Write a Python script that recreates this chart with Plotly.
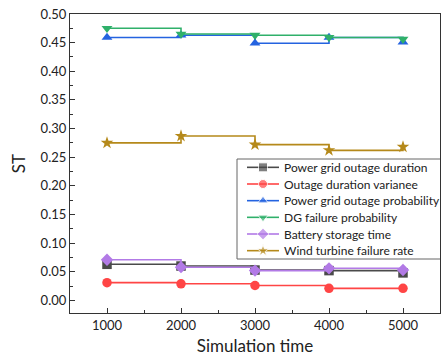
import plotly.graph_objects as go

sim_time = [1000, 2000, 3000, 4000, 5000]
grid_outage_duration = [0.063, 0.060, 0.053, 0.052, 0.048]
outage_duration_variance = [0.031, 0.029, 0.026, 0.021, 0.021]
grid_outage_probability = [0.459, 0.463, 0.449, 0.459, 0.451]
dg_failure_probability = [0.475, 0.465, 0.463, 0.459, 0.456]
battery_storage_time = [0.071, 0.058, 0.052, 0.056, 0.053]
wind_turbine_failure_rate = [0.275, 0.287, 0.272, 0.262, 0.268]

series = [
    ("Power grid outage duration", grid_outage_duration, "#4a4a4a", "square"),
    ("Outage duration varianee", outage_duration_variance, "#ff4545", "circle"),
    ("Power grid outage probability", grid_outage_probability, "#2463e0", "triangle-up"),
    ("DG failure probability", dg_failure_probability, "#2fb06a", "triangle-down"),
    ("Battery storage time", battery_storage_time, "#b27ae6", "diamond"),
    ("Wind turbine failure rate", wind_turbine_failure_rate, "#b5891a", "star"),
]

font = "Lato"
W, H = 443, 356
ML, MR, MT, MB = 70, 3, 14, 43

fig = go.Figure()
for name, vals, color, sym in series:
    fig.add_trace(go.Scatter(
        x=sim_time, y=vals, name=name, mode="lines+markers",
        line=dict(color=color, width=1.6, shape="hv"),
        marker=dict(symbol=sym, size=9.5, color=color),
        showlegend=False,
    ))

# Compact legend drawn on an overlay pixel-coordinate axis pair
LX0, LX1, LY0, LY1 = 237, 441, 159, 259
row_h = (LY1 - LY0) / len(series)
fig.add_trace(go.Scatter(
    x=[LX0, LX1, LX1, LX0, LX0], y=[LY0, LY0, LY1, LY1, LY0],
    mode="lines", fill="toself", fillcolor="white",
    line=dict(color="#666", width=1), xaxis="x2", yaxis="y2",
    showlegend=False, hoverinfo="skip",
))
annotations = []
for i, (name, vals, color, sym) in enumerate(series):
    yc = LY0 + row_h * (i + 0.5)
    fig.add_trace(go.Scatter(
        x=[LX0 + 10, LX0 + 26, LX0 + 42], y=[yc, yc, yc],
        mode="lines+markers", xaxis="x2", yaxis="y2",
        line=dict(color=color, width=1.6),
        marker=dict(symbol=sym, size=[0, 9, 0], color=color),
        showlegend=False, hoverinfo="skip",
    ))
    annotations.append(dict(
        x=LX0 + 45, y=yc, xref="x2", yref="y2", text=name, showarrow=False,
        xanchor="left", yanchor="middle",
        font=dict(family=font, size=12, color="#222"),
    ))

fig.update_layout(
    width=W, height=H,
    margin=dict(l=ML, r=MR, t=MT, b=MB),
    paper_bgcolor="white", plot_bgcolor="white",
    font=dict(family=font, color="#222", size=12),
    showlegend=False,
    annotations=annotations,
    xaxis=dict(
        range=[500, 5500], tickvals=sim_time,
        ticks="inside", ticklen=5, tickcolor="#333",
        minor=dict(ticks="inside", ticklen=3, dtick=500, tick0=500, tickcolor="#333"),
        showline=True, linecolor="#333", linewidth=1.2, mirror=True,
        showgrid=False, zeroline=False,
        tickfont=dict(size=13),
        title=dict(text="Simulation time", font=dict(size=17), standoff=9),
    ),
    yaxis=dict(
        range=[-0.022, 0.5], dtick=0.05, tick0=0, tickformat=".2f",
        ticks="inside", ticklen=5, tickcolor="#333",
        minor=dict(ticks="inside", ticklen=3, dtick=0.025, tick0=0, tickcolor="#333"),
        showline=True, linecolor="#333", linewidth=1.2, mirror=True,
        showgrid=False, zeroline=False,
        tickfont=dict(size=13),
        title=dict(text="ST", font=dict(size=17), standoff=10),
    ),
    xaxis2=dict(overlaying="x", anchor="y2", range=[ML, W - MR], visible=False,
                fixedrange=True),
    yaxis2=dict(overlaying="y", anchor="x2", range=[H - MB, MT], visible=False,
                fixedrange=True),
)
fig.write_html("out.html", config={"displayModeBar": False},
               post_script="document.body.style.margin='0';")
